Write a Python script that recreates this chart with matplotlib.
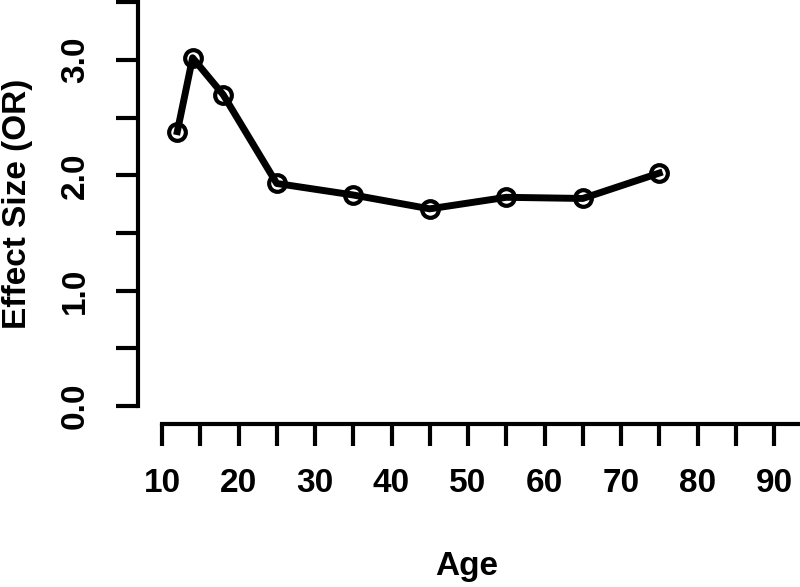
import matplotlib
matplotlib.use("Agg")
import matplotlib.pyplot as plt

age = [12, 14, 18, 25, 35, 45, 55, 65, 75]
effect = [2.38, 3.02, 2.70, 1.93, 1.83, 1.71, 1.81, 1.80, 2.02]
xticks = list(range(10, 95, 5))
xlabels = [str(v) if v % 10 == 0 else "" for v in xticks]
yticks = [0, 0.5, 1.0, 1.5, 2.0, 2.5, 3.0, 3.5]
ylabels = ["0.0", "", "1.0", "", "2.0", "", "3.0", ""]

plt.rcParams['font.family'] = ['Liberation Sans', 'DejaVu Sans']
plt.rcParams['font.weight'] = 'bold'

W, H = 800, 587
fig = plt.figure(figsize=(8, 5.87), dpi=100)

# pixel mapping
x0px, xscale = 162, 7.65      # x=10 at 162 px, px per unit
y0px, yscale = 406, 115.3     # y=0 at 406 px (from top)
left_px, bottom_px = 138, 424
xmin = 10 + (left_px - x0px) / xscale
xmax = 10 + (W - x0px) / xscale
ymin = (y0px - bottom_px) / yscale
ymax = (y0px - 1) / yscale

ax = fig.add_axes([left_px / W, (H - bottom_px) / H, 1 - left_px / W, (bottom_px - 1) / H])
ax.set_xlim(xmin, xmax)
ax.set_ylim(ymin, ymax)

ax.plot(age, effect, color='black', lw=5, marker='o', markersize=12,
        markerfacecolor='none', markeredgewidth=3, clip_on=False, zorder=3)

for s in ['top', 'right']:
    ax.spines[s].set_visible(False)
ax.spines['left'].set_linewidth(3)
ax.spines['bottom'].set_linewidth(3)
ax.spines['left'].set_bounds(0, 3.5)
ax.spines['bottom'].set_bounds(10, xmax)

ax.set_xticks(xticks)
ax.set_xticklabels(xlabels)
ax.set_yticks(yticks)
ax.set_yticklabels(ylabels, rotation=90, va='center')
ax.tick_params(axis='both', length=16, width=3, labelsize=24, direction='out')
ax.tick_params(axis='x', pad=16)
ax.tick_params(axis='y', pad=18)
for lab in ax.get_xticklabels() + ax.get_yticklabels():
    lab.set_fontweight('bold')

fig.text(467 / W, (H - 575) / H, 'Age', fontsize=24, fontweight='bold',
         ha='center', va='baseline')
fig.text(18 / W, (H - 204) / H, 'Effect Size (OR)', fontsize=24, fontweight='bold',
         ha='center', va='center', rotation=90)

fig.savefig('out.png', dpi=100)
